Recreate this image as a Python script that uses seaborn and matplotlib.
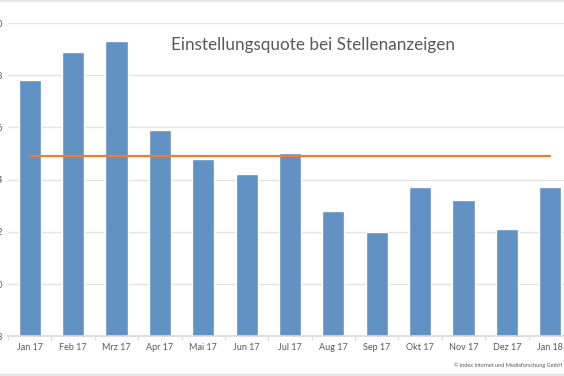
import matplotlib
matplotlib.use("Agg")
import matplotlib.pyplot as plt
from matplotlib.lines import Line2D
import seaborn as sns
import pandas as pd

# Einstellungsquote je Monat
monate = ["Jan 17", "Feb 17", "Mrz 17", "Apr 17", "Mai 17", "Jun 17", "Jul 17",
          "Aug 17", "Sep 17", "Okt 17", "Nov 17", "Dez 17", "Jan 18"]
quote = [2.78, 2.89, 2.93, 2.59, 2.48, 2.42, 2.50, 2.28, 2.20, 2.37, 2.32, 2.21, 2.37]
durchschnitt = [2.49, 2.49, 2.49, 2.49, 2.49, 2.49, 2.49, 2.49, 2.49, 2.49, 2.49, 2.49, 2.49]
y_ticks = [1.8, 2.0, 2.2, 2.4, 2.6, 2.8, 3.0]

df = pd.DataFrame({"monat": monate, "quote": quote, "avg": durchschnitt})

sns.set_theme(style="white")
plt.rcParams["font.family"] = ["Lato", "DejaVu Sans"]

fig = plt.figure(figsize=(5.64, 3.76), dpi=100)
ax = fig.add_axes([8 / 564, 40 / 376, 564 / 564, 313 / 376])

sns.barplot(data=df, x="monat", y="quote", color="#6192C3", saturation=1,
            width=0.51, ax=ax, zorder=2)
sns.lineplot(data=df, x="monat", y="avg", color="#EE7D31", linewidth=1.6,
             sort=False, ax=ax, zorder=3)

ax.set_ylim(1.8, 3.0)
ax.set_xlim(-0.5, 12.5)
ax.set_yticks(y_ticks)
ax.set_yticklabels([f"{v:.1f}".replace(".", ",") for v in y_ticks])
ax.set_xticks([i + 0.5 for i in range(-1, 13)], minor=True)
ax.yaxis.grid(True, color="#E3E3E3", linewidth=1)
ax.set_axisbelow(True)
for s in ["top", "right", "left"]:
    ax.spines[s].set_visible(False)
ax.spines["bottom"].set_color("#D9D9D9")
ax.tick_params(axis="x", which="major", colors="#595959", labelsize=6.5, length=0, pad=5)
ax.tick_params(axis="x", which="minor", color="#D9D9D9", length=3, width=0.8, bottom=True)
ax.tick_params(axis="y", colors="#595959", labelsize=6.5, length=0, pad=3.5)
ax.set_xlabel("")
ax.set_ylabel("")

fig.text(313 / 564, 1 - 45 / 376, "Einstellungsquote bei Stellenanzeigen",
         ha="center", va="center", fontsize=12.3, color="#595959")
fig.text(562 / 564, 1 - 365 / 376, "© index Internet und Mediaforschung GmbH",
         ha="right", va="center", fontsize=4.0, color="#595959")

# Rahmen oben/unten
fig.add_artist(Line2D([0, 1], [1 - 1 / 376, 1 - 1 / 376], color="#E6E6E6", lw=1.5))
fig.add_artist(Line2D([0, 1], [1 - 375 / 376, 1 - 375 / 376], color="#E6E6E6", lw=2.5))

fig.savefig("out.png", dpi=100)
